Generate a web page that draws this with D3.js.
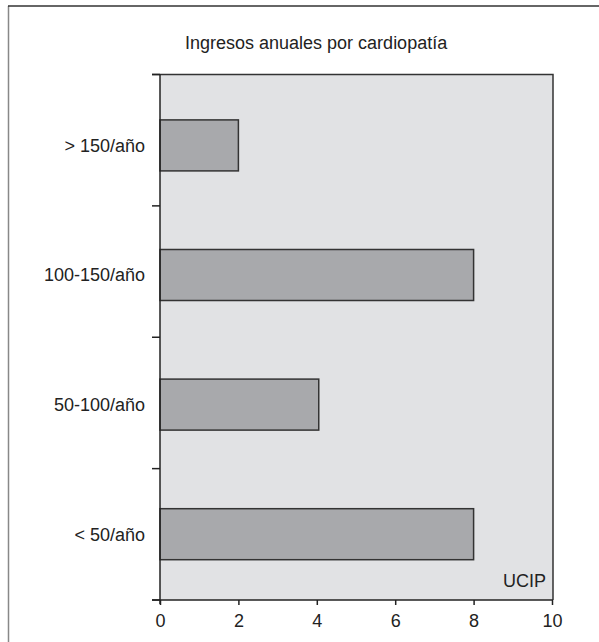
<!DOCTYPE html>
<html><head><meta charset="utf-8">
<script src="https://cdn.jsdelivr.net/npm/d3@7"></script>
<style>body{margin:0;background:#fff}svg{display:block}text{font-family:"Liberation Sans",Arial,sans-serif;fill:#222}</style>
</head><body>
<script>
const categories = ["> 150/año", "100-150/año", "50-100/año", "< 50/año"];
const values = [2, 8, 4.05, 8];
const xTicks = [0, 2, 4, 6, 8, 10];
const title = "Ingresos anuales por cardiopatía";
const unitLabel = "UCIP";

const W = 599, H = 642, FS = 18;
const svg = d3.select("body").append("svg").attr("width", W).attr("height", H);

// outer frame
svg.append("line").attr("x1", 8.5).attr("x2", 8.5).attr("y1", 6).attr("y2", H)
  .attr("stroke", "#888").attr("stroke-width", 1.5);
svg.append("line").attr("x1", 8).attr("x2", W).attr("y1", 6).attr("y2", 6)
  .attr("stroke", "#333").attr("stroke-width", 1.5);

const L = 160, R = 553, T = 74.5, B = 600;
const x = d3.scaleLinear().domain([0, 10]).range([L, 552]);
const yBand = d3.scaleBand().domain(categories).range([T, B]).padding(0);
const yBar = d3.scalePoint().domain(categories).range([145.4, 534.2]);
const barH = 51;

svg.append("text").attr("x", 185).attr("y", 48.5).attr("text-anchor", "start")
  .attr("font-size", FS).text(title);

// plot background
svg.append("rect").attr("x", L).attr("y", T).attr("width", R - L).attr("height", B - T)
  .attr("fill", "#e1e2e4");

// bars
svg.selectAll("rect.bar").data(categories).join("rect").attr("class", "bar")
  .attr("x", x(0)).attr("y", d => yBar(d) - barH / 2)
  .attr("width", (d, i) => x(values[i]) - x(0)).attr("height", barH)
  .attr("fill", "#a8a9ac").attr("stroke", "#333").attr("stroke-width", 1.5);

// frame top/right
svg.append("path").attr("d", `M152,${T}H${R}V${B}`).attr("fill", "none")
  .attr("stroke", "#333").attr("stroke-width", 1.5);

// y axis: ticks at band boundaries
const bounds = categories.map(c => yBand(c)).concat([B]);
svg.append("line").attr("x1", L).attr("x2", L).attr("y1", T).attr("y2", B + 4)
  .attr("stroke", "#222").attr("stroke-width", 1.5);
svg.selectAll("line.ytick").data(bounds).join("line").attr("class", "ytick")
  .attr("x1", 152).attr("x2", L).attr("y1", d => d).attr("y2", d => d)
  .attr("stroke", "#222").attr("stroke-width", 1.5);
svg.selectAll("text.ylab").data(categories).join("text").attr("class", "ylab")
  .attr("x", 145).attr("y", d => yBar(d)).attr("dy", "0.35em")
  .attr("text-anchor", "end").attr("font-size", FS).text(d => d);

// x axis
const xAxis = d3.axisBottom(x).tickValues(xTicks).tickSize(5).tickPadding(9).tickSizeOuter(0);
const gx = svg.append("g").attr("transform", `translate(0,${B})`).call(xAxis);
gx.select(".domain").remove();
gx.selectAll(".tick line").attr("stroke", "#222").attr("stroke-width", 1.5);
gx.selectAll(".tick text").attr("font-size", FS).attr("font-family", "Liberation Sans, Arial, sans-serif").attr("fill", "#222");
svg.append("line").attr("x1", 152).attr("x2", R).attr("y1", B).attr("y2", B)
  .attr("stroke", "#222").attr("stroke-width", 1.5);

svg.append("text").attr("x", 546).attr("y", 587).attr("text-anchor", "end")
  .attr("font-size", FS).text(unitLabel);
</script>
</body></html>
